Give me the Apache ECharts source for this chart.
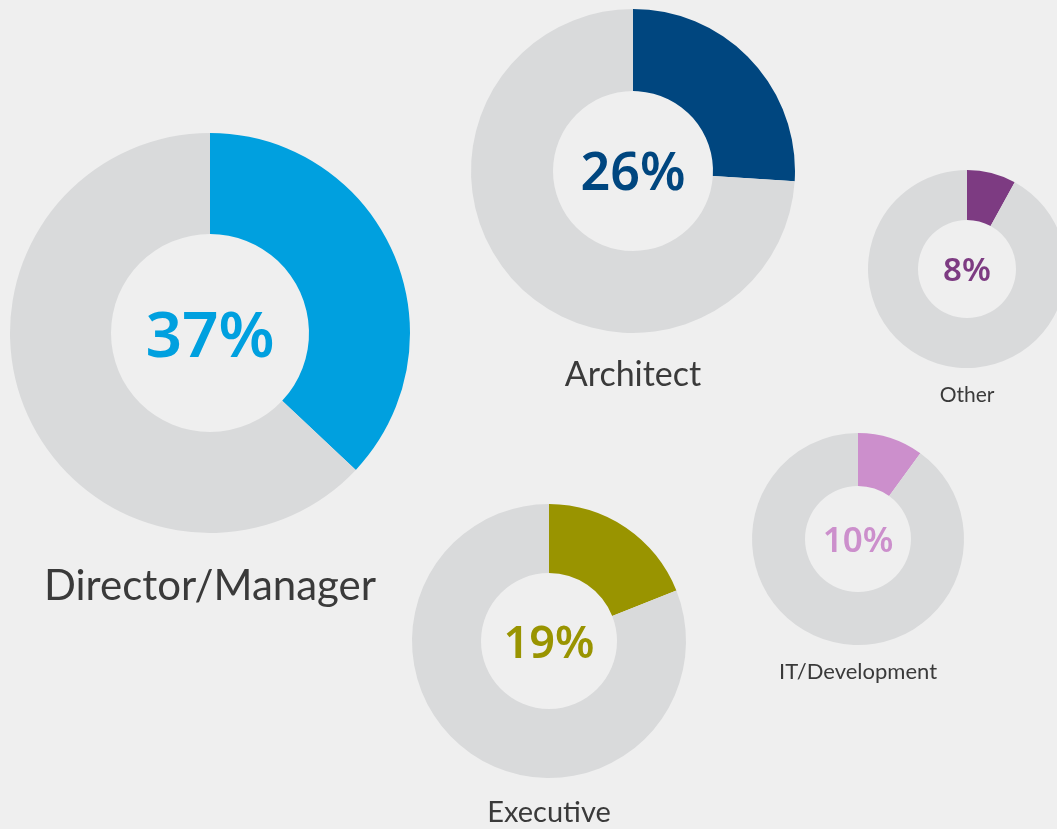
<!DOCTYPE html>
<html>
<head>
<meta charset="utf-8">
<script src="https://cdn.jsdelivr.net/npm/echarts@6/dist/echarts.min.js"></script>
<style>
html,body{margin:0;padding:0;background:#efefef;}
#c{width:1057px;height:829px;}
</style>
</head>
<body>
<div id="c"></div>
<script>
const categories = ['Director/Manager', 'Architect', 'Other', 'IT/Development', 'Executive'];
const percentValues = [37, 26, 8, 10, 19];
const remainderValues = [63, 74, 92, 90, 81];
const percentLabels = ['37%', '26%', '8%', '10%', '19%'];

// layout (pixels)
const centers = [[210, 333], [633, 171], [967, 269], [858, 539], [549, 641]];
const outerR = [200, 162, 99, 106, 137];
const innerR = [99, 80, 49, 53, 68];
const colors = ['#00a0df', '#00467f', '#7d3b82', '#cc8fcc', '#999400'];
const pctFont = [64, 52, 33, 35, 45];
const pctShift = [6, 4, 3, 3, 4];
const nameFont = [42, 34, 21, 22, 29];
const nameY = [586, 375, 395, 672, 813];

const LABEL_FONT = 'Lato, "Noto Sans", sans-serif';
const PCT_FONT = '"Noto Sans", Lato, sans-serif';

const series = categories.map((name, i) => ({
  type: 'pie',
  center: centers[i],
  radius: [innerR[i], outerR[i]],
  startAngle: 90,
  clockwise: true,
  silent: true,
  animation: false,
  avoidLabelOverlap: false,
  labelLine: { show: false },
  data: [
    {
      value: percentValues[i], name: name,
      itemStyle: { color: colors[i] },
      label: {
        show: true, position: 'center', formatter: percentLabels[i],
        offset: [0, pctShift[i]],
        color: colors[i], fontSize: pctFont[i], fontWeight: 600, fontFamily: PCT_FONT
      }
    },
    {
      value: remainderValues[i], name: name + ' rest',
      itemStyle: { color: '#d9dadb' },
      label: { show: false }
    }
  ]
}));

const titles = categories.map((name, i) => ({
  text: name,
  left: centers[i][0],
  top: nameY[i],
  padding: 0,
  textAlign: 'center',
  textVerticalAlign: 'middle',
  textStyle: { color: '#3a3a3a', fontSize: nameFont[i], fontWeight: 400, fontFamily: LABEL_FONT }
}));

const chart = echarts.init(document.getElementById('c'), null, { renderer: 'canvas' });
chart.setOption({
  backgroundColor: '#efefef',
  animation: false,
  title: titles,
  series: series
});
</script>
</body>
</html>
